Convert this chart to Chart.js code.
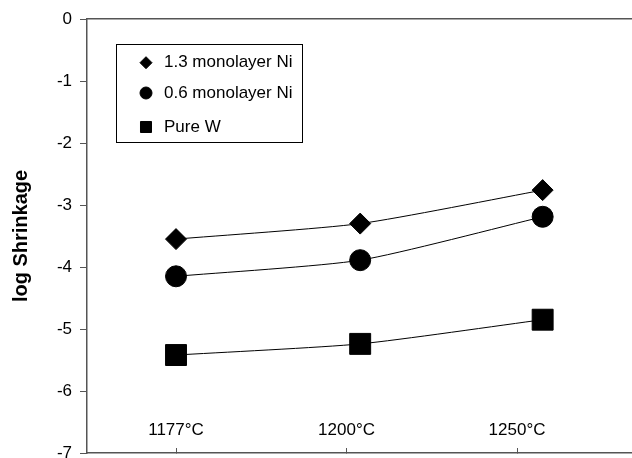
<!DOCTYPE html>
<html>
<head>
<meta charset="utf-8">
<script src="https://cdn.jsdelivr.net/npm/chart.js@4.4.1/dist/chart.umd.min.js"></script>
<style>
html,body{margin:0;padding:0;background:#fff;}
canvas{display:block;}
</style>
</head>
<body>
<canvas id="c" width="632" height="458"></canvas>
<script>
// ---- data ----
const categories = ['1177°C', '1200°C', '1250°C'];
const tickPositions = [1, 2, 3];
const pointX = [1.0, 2.08, 3.15];
const seriesLabels = ['1.3 monolayer Ni', '0.6 monolayer Ni', 'Pure W'];
const ni13 = [-3.55, -3.30, -2.76];
const ni06 = [-4.15, -3.89, -3.19];
const pureW = [-5.42, -5.24, -4.85];
const yMin = -7, yMax = 0, yStep = 1;

const AXIS = '#555';
Chart.defaults.font.family = '"Liberation Sans", Arial, sans-serif';
Chart.defaults.color = '#000';

function pts(arr) { return pointX.map((x, i) => ({x: x, y: arr[i]})); }

const styles = [
  {pointStyle: 'rectRot', radius: 10.5, legendRadius: 6},
  {pointStyle: 'circle', radius: 10.5, legendRadius: 6},
  {pointStyle: 'rect', radius: 14.8, legendRadius: 7.8}
];
const seriesData = [ni13, ni06, pureW];

const datasets = seriesData.map((arr, i) => ({
  label: seriesLabels[i],
  data: pts(arr),
  borderColor: '#000',
  backgroundColor: '#000',
  borderWidth: 1,
  pointStyle: styles[i].pointStyle,
  pointRadius: styles[i].radius,
  pointBorderWidth: 1,
  pointBackgroundColor: '#000',
  pointBorderColor: '#000',
  tension: 0.2,
  fill: false,
  clip: false
}));

const legendBox = {
  id: 'legendBox',
  afterDraw(chart) {
    const ctx = chart.ctx;
    ctx.save();
    ctx.strokeStyle = '#000';
    ctx.lineWidth = 1;
    ctx.strokeRect(116.5, 44.5, 186, 98);
    const ys = [62.7, 93, 127];
    ctx.font = '17px "Liberation Sans", Arial, sans-serif';
    ctx.textBaseline = 'middle';
    ctx.textAlign = 'left';
    chart.data.datasets.forEach((ds, i) => {
      ctx.fillStyle = '#000';
      ctx.strokeStyle = '#000';
      Chart.helpers.drawPoint(ctx, {pointStyle: styles[i].pointStyle, radius: styles[i].legendRadius, rotation: 0, borderWidth: 1}, 146, ys[i]);
      ctx.fillStyle = '#000';
      ctx.fillText(ds.label, 164, ys[i]);
    });
    ctx.restore();
  }
};

new Chart(document.getElementById('c'), {
  type: 'line',
  data: {datasets: datasets},
  options: {
    responsive: false,
    animation: false,
    devicePixelRatio: 1,
    layout: {padding: 0, autoPadding: false},
    plugins: {legend: {display: false}, tooltip: {enabled: false}},
    scales: {
      x: {
        type: 'linear',
        position: 'bottom',
        min: 0.478,
        max: 3.674,
        afterBuildTicks: s => { s.ticks = tickPositions.map(v => ({value: v})); },
        afterFit: s => { s.height = 5; s.paddingLeft = 0; s.paddingRight = 0; },
        ticks: {
          mirror: true,
          padding: 12,
          maxRotation: 0,
          autoSkip: false,
          font: {size: 17},
          color: '#000',
          callback: v => categories[tickPositions.indexOf(v)]
        },
        grid: {drawOnChartArea: false, drawTicks: true, tickLength: -5, color: AXIS, tickWidth: 1},
        border: {display: true, color: AXIS, width: 1.5}
      },
      x2: {
        type: 'linear',
        position: 'top',
        min: 0, max: 1,
        afterFit: s => { s.height = 19; s.paddingLeft = 0; s.paddingRight = 0; },
        ticks: {display: false},
        grid: {drawOnChartArea: false, drawTicks: false},
        border: {display: true, color: AXIS, width: 1.5}
      },
      y: {
        type: 'linear',
        position: 'left',
        min: yMin,
        max: yMax,
        afterFit: s => { s.width = 87; s.paddingTop = 0; s.paddingBottom = 0; },
        ticks: {stepSize: yStep, padding: 8, font: {size: 17}, color: '#000'},
        grid: {drawOnChartArea: false, drawTicks: true, tickLength: 7, color: AXIS, tickWidth: 1},
        border: {display: true, color: AXIS, width: 1.5},
        title: {display: true, text: 'log Shrinkage', font: {size: 20, weight: 'bold'}, color: '#000', padding: {top: 9, bottom: 0}}
      }
    }
  },
  plugins: [legendBox]
});
</script>
</body>
</html>
